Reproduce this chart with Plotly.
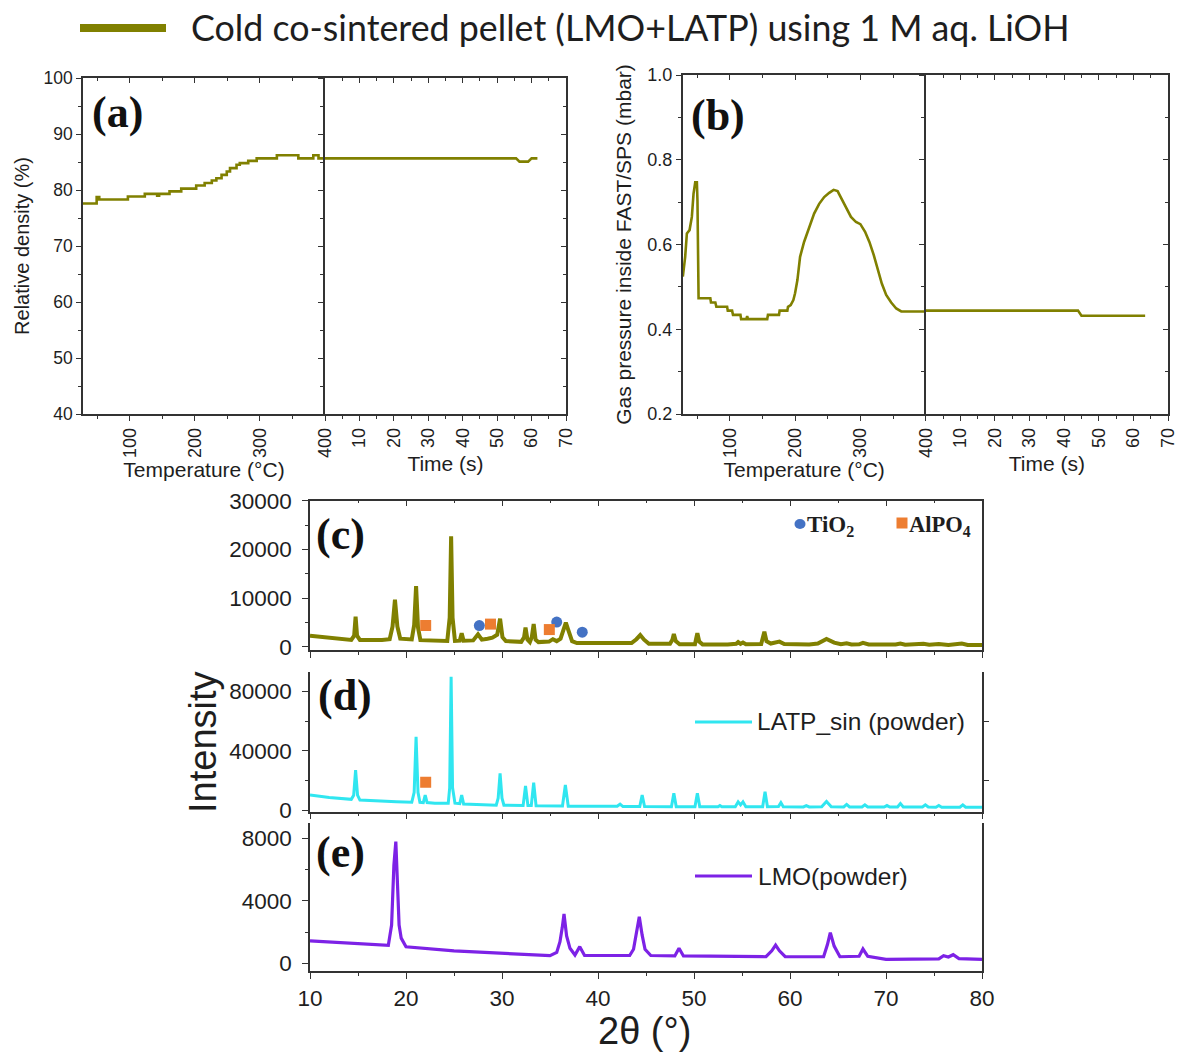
import plotly.graph_objects as go

W, H = 1179, 1053

# ---------------- data ----------------
# (a) relative density during heating (step trace) and during the dwell
temp_a = [28, 49, 53, 97, 123, 142, 145, 161, 179, 202, 215, 226, 233, 241, 249, 254,
          264, 269, 282, 295, 326, 359, 382, 390, 400]
density_a = [77.6, 78.75, 78.3, 78.85, 79.3, 79.0, 79.3, 79.75, 80.25, 80.8, 81.25, 81.7,
             82.1, 82.7, 83.3, 83.9, 84.5, 84.8, 85.2, 85.65, 86.2, 85.65, 86.2, 85.65, 85.65]
time_a = [0, 55.5, 56.5, 59.0, 60.0, 61.7]
density_time_a = [85.65, 85.65, 85.06, 85.06, 85.65, 85.65]

# (b) gas pressure inside the FAST/SPS chamber
temp_b = [28.2, 31.8, 34.4, 38.5, 42.0, 44.6, 47.2, 49.7, 50.6, 51.2, 52.3, 70.3, 71.3, 78.0,
          79.5, 96.0, 97.0, 103.6, 105.0, 116.4, 117.4, 125.5, 126.7, 128.0, 157.4, 158.5,
          175.4, 176.4, 188.2, 189.2, 193.3, 197.4, 200.0, 203.6, 207.7, 213.8, 221.5,
          229.2, 236.9, 244.6, 252.3, 259.0, 265.1, 271.3, 278.0, 285.6, 293.3, 300.0,
          307.2, 313.8, 320.5, 326.7, 332.8, 339.5, 347.2, 354.9, 362.6, 400.0]
pressure_b = [0.524, 0.571, 0.626, 0.634, 0.665, 0.720, 0.747, 0.747, 0.704, 0.493, 0.473,
              0.473, 0.463, 0.463, 0.453, 0.453, 0.444, 0.444, 0.434, 0.434, 0.424, 0.424,
              0.431, 0.424, 0.424, 0.434, 0.434, 0.444, 0.444, 0.453, 0.457, 0.469, 0.485,
              0.516, 0.571, 0.606, 0.642, 0.673, 0.696, 0.712, 0.722, 0.729, 0.726, 0.708,
              0.685, 0.665, 0.653, 0.648, 0.630, 0.606, 0.575, 0.540, 0.508, 0.481, 0.463,
              0.449, 0.442, 0.442]
time_b = [0, 44.0, 45.0, 63.4]
pressure_time_b = [0.444, 0.444, 0.432, 0.432]

# (c) XRD of the cold co-sintered pellet
two_theta_c = [10.0, 12.0, 14.3, 14.6, 14.75, 14.9, 15.2, 17.5, 18.3, 18.6, 18.85, 19.1, 19.4,
               20.6, 20.85, 21.05, 21.25, 21.5, 22.5, 24.3, 24.55, 24.7, 24.85, 25.1, 25.6,
               25.8, 26.0, 27.0, 27.5, 27.9, 28.5, 29.0, 29.5, 29.8, 30.05, 30.4, 32.0, 32.3,
               32.45, 32.65, 32.9, 33.1, 33.3, 33.5, 33.8, 34.9, 35.3, 35.7, 36.1, 36.4, 36.65,
               36.9, 37.3, 37.8, 40.0, 43.5, 44.0, 44.4, 44.8, 45.3, 47.5, 47.75, 47.9, 48.1,
               48.5, 50.1, 50.2, 50.35, 50.55, 50.9, 53.5, 54.4, 54.6, 54.85, 55.1, 55.4, 57.0,
               57.15, 57.33, 57.55, 58.0, 58.9, 59.4, 62.0, 62.9, 63.8, 64.6, 65.3, 65.9, 66.4,
               67.2, 67.6, 68.2, 71.0, 71.5, 72.0, 73.9, 74.5, 75.5, 76.5, 77.9, 78.5, 80.0]
intensity_c = [2300, 1900, 1450, 2300, 6200, 2300, 1450, 1450, 1600, 4200, 9700, 4200, 1700,
               1550, 4500, 12500, 4000, 1400, 1350, 1250, 6000, 22700, 6000, 1250, 1300,
               2800, 1300, 1350, 2600, 1500, 1700, 1900, 2500, 5800, 2000, 1200, 1050, 2000,
               4000, 1500, 1000, 2000, 4700, 1500, 1000, 1100, 1600, 1200, 1700, 3800, 5000,
               3500, 1200, 800, 750, 800, 1600, 2450, 1500, 650, 650, 1500, 2650, 1200,
               550, 550, 1500, 2850, 1100, 500, 500, 650, 1000, 650, 900, 550, 600,
               1600, 3150, 1200, 700, 1100, 600, 500, 700, 1650, 900, 550, 750, 500,
               550, 850, 500, 500, 700, 450, 650, 450, 600, 400, 700, 400, 400]

# secondary phases marked on the pellet and powder patterns
tio2_c_two_theta = [27.64, 35.7, 38.36]
tio2_c_intensity = [4400, 5100, 3030]
alpo4_c_two_theta = [22.05, 28.8, 34.93]
alpo4_c_intensity = [4400, 4690, 3570]
alpo4_d_two_theta = [22.05]
alpo4_d_intensity = [18700]

# (d) XRD of the sintered LATP powder
two_theta_d = [10.0, 12.0, 14.3, 14.55, 14.75, 14.95, 15.2, 17.0, 19.0, 20.6, 20.85, 21.05,
               21.25, 21.45, 21.8, 22.0, 22.2, 23.0, 24.4, 24.55, 24.7, 24.85, 25.1, 25.6,
               25.8, 26.0, 27.5, 29.4, 29.6, 29.8, 30.0, 30.2, 32.2, 32.45, 32.7, 33.05, 33.3,
               33.55, 36.3, 36.6, 36.9, 40.0, 42.0, 42.3, 42.6, 44.35, 44.6, 44.85, 47.65,
               47.9, 48.15, 50.1, 50.35, 50.6, 52.5, 52.7, 52.9, 54.3, 54.6, 54.85, 55.1,
               55.4, 57.15, 57.4, 57.65, 58.8, 59.05, 59.3, 61.4, 61.7, 62.0, 63.3, 63.8,
               64.3, 65.6, 65.9, 66.2, 67.5, 67.8, 68.1, 69.8, 70.1, 70.4, 71.2, 71.5, 71.8,
               73.8, 74.1, 74.4, 75.2, 75.5, 75.8, 77.7, 78.0, 78.3, 80.0]
intensity_d = [10100, 8500, 7200, 10000, 27000, 10000, 6700, 6000, 5500, 5200, 12000, 49500,
               12000, 5200, 5000, 10100, 5000, 4600, 4500, 15000, 90000, 15000, 4600, 4300,
               10100, 4100, 3800, 3200, 8000, 24800, 8000, 3200, 3000, 16200, 3000, 3000, 18500,
               2800, 2700, 16900, 2600, 2250, 2500, 4000, 2300, 2300, 10100, 2300, 2200,
               11300, 2200, 2200, 11300, 2200, 2200, 3000, 2200, 2200, 5500, 3500, 5500,
               2200, 2200, 12400, 2200, 2400, 5000, 2200, 2100, 3000, 2100, 2200, 5800,
               2200, 2100, 3800, 2100, 2000, 3500, 2000, 2000, 3000, 2000, 2000, 4300, 2000,
               2000, 3500, 2000, 1900, 3000, 1900, 1900, 3500, 1900, 1800]

# (e) XRD of the LMO powder
two_theta_e = [10.0, 14.0, 18.16, 18.5, 18.74, 18.94, 19.07, 19.28, 19.5, 20.0, 25.0, 30.0,
               35.0, 35.7, 36.04, 36.28, 36.46, 36.73, 37.08, 37.6, 38.1, 38.6, 40.0, 43.3,
               43.7, 44.0, 44.3, 44.6, 44.9, 45.5, 48.0, 48.44, 48.9, 57.5, 58.1, 58.5, 58.9,
               59.5, 63.5, 63.9, 64.2, 64.6, 65.2, 67.2, 67.6, 68.1, 70.0, 75.5, 76.0, 76.5,
               77.0, 77.6, 80.0]
intensity_e = [1430, 1280, 1150, 2450, 6290, 7785, 5220, 2450, 1610, 1060, 790, 640,
               490, 700, 1385, 2300, 3155, 1750, 960, 530, 1065, 500, 510, 500,
               900, 1900, 2980, 1800, 900, 500, 470, 960, 470, 420, 800, 1170, 800,
               420, 420, 1200, 1960, 1100, 420, 450, 915, 450, 250, 280, 490, 400,
               550, 300, 250]

temp_ticks = [100, 200, 300, 400]
temp_minor = [50, 150, 250, 350]
time_ticks = [10, 20, 30, 40, 50, 60, 70]
time_minor = [5, 15, 25, 35, 45, 55, 65]

OLIVE = "#808000"
CYAN = "#30e6f0"
PURPLE = "#7d22e6"
BLUE = "#4472c4"
ORANGE = "#ed7d31"
AX = "#333333"
TXT = "#1e1e1e"
SANS = "Liberation Sans, Arial, sans-serif"
SERIF = "Liberation Serif, Times New Roman, serif"


def px(x):
    return x / W


def py(y):
    return 1 - y / H


def axis(**kw):
    d = dict(showline=True, linecolor=AX, linewidth=1.5, ticks="outside", tickcolor=AX,
             ticklen=5, tickwidth=1.3, showgrid=False, zeroline=False, automargin=False,
             tickfont=dict(family=SANS, size=18, color=TXT))
    d.update(kw)
    return d


def minor(vals=None, dtick=None, side="outside"):
    m = dict(ticks=side, ticklen=3, tickcolor=AX, tickwidth=1.2, showgrid=False)
    if vals is not None:
        m["tickvals"] = vals
    if dtick is not None:
        m["dtick"] = dtick
    return m


fig = go.Figure()

# ---- (a) ----
fig.add_trace(go.Scatter(x=temp_a, y=density_a, mode="lines", line=dict(color=OLIVE, width=2.6, shape="hv"),
                         xaxis="x", yaxis="y", showlegend=False))
fig.add_trace(go.Scatter(x=time_a, y=density_time_a, mode="lines", line=dict(color=OLIVE, width=2.6),
                         xaxis="x2", yaxis="y2", showlegend=False))
# ---- (b) ----
fig.add_trace(go.Scatter(x=temp_b, y=pressure_b, mode="lines", line=dict(color=OLIVE, width=2.6),
                         xaxis="x5", yaxis="y4", showlegend=False))
fig.add_trace(go.Scatter(x=time_b, y=pressure_time_b, mode="lines", line=dict(color=OLIVE, width=2.6),
                         xaxis="x6", yaxis="y5", showlegend=False))
# ---- (c), (d), (e) ----
fig.add_trace(go.Scatter(x=two_theta_c, y=intensity_c, mode="lines", line=dict(color=OLIVE, width=4),
                         xaxis="x9", yaxis="y7", showlegend=False))
fig.add_trace(go.Scatter(x=two_theta_d, y=intensity_d, mode="lines", line=dict(color=CYAN, width=3),
                         xaxis="x10", yaxis="y8", showlegend=False))
fig.add_trace(go.Scatter(x=two_theta_e, y=intensity_e, mode="lines", line=dict(color=PURPLE, width=3.2),
                         xaxis="x11", yaxis="y9", showlegend=False))
fig.add_trace(go.Scatter(x=tio2_c_two_theta, y=tio2_c_intensity, mode="markers",
                         marker=dict(symbol="circle", size=11, color=BLUE), xaxis="x9", yaxis="y7",
                         showlegend=False))
fig.add_trace(go.Scatter(x=alpo4_c_two_theta, y=alpo4_c_intensity, mode="markers",
                         marker=dict(symbol="square", size=11, color=ORANGE), xaxis="x9", yaxis="y7",
                         showlegend=False))
fig.add_trace(go.Scatter(x=alpo4_d_two_theta, y=alpo4_d_intensity, mode="markers",
                         marker=dict(symbol="square", size=11, color=ORANGE), xaxis="x10", yaxis="y8",
                         showlegend=False))

# empty traces so the frame-only overlay axes get their subplots
for xa, ya in [("x3", "y"), ("x4", "y2"), ("x2", "y3"), ("x7", "y4"), ("x8", "y5"), ("x6", "y6"),
               ("x12", "y7"), ("x10", "y11")]:
    fig.add_trace(go.Scatter(x=[], y=[], xaxis=xa, yaxis=ya, showlegend=False, hoverinfo="skip"))

title_font = dict(family=SANS, size=21, color=TXT)
lay = {}

# panel (a) axes
a_dom = [py(414), py(78)]
lay["xaxis"] = axis(domain=[px(83), px(325)], anchor="y", range=[28, 400], tickvals=temp_ticks,
                    tickangle=-90, minor=minor(temp_minor),
                    title=dict(text="Temperature (°C)", font=title_font, standoff=0))
lay["xaxis2"] = axis(domain=[px(325), px(566)], anchor="y2", range=[0, 70], tickvals=time_ticks,
                     tickangle=-90, minor=minor(time_minor),
                     title=dict(text="Time (s)", font=title_font, standoff=9))
lay["xaxis3"] = axis(overlaying="x", side="top", anchor="y", range=[28, 400], tickvals=temp_ticks,
                     ticks="inside", showticklabels=False, minor=minor(temp_minor, side="inside"))
lay["xaxis4"] = axis(overlaying="x2", side="top", anchor="y2", range=[0, 70], tickvals=time_ticks,
                     ticks="inside", showticklabels=False, minor=minor(time_minor, side="inside"))
lay["yaxis"] = axis(domain=a_dom, anchor="x", range=[40, 100], dtick=10, tick0=40,
                    minor=minor(dtick=5), tickfont=dict(family=SANS, size=17.5, color=TXT),
                    title=dict(text="Relative density (%)", font=dict(family=SANS, size=20, color=TXT),
                               standoff=9))
lay["yaxis2"] = axis(domain=a_dom, anchor="x2", range=[40, 100], dtick=10, tick0=40,
                     showticklabels=False, minor=minor(dtick=5))
lay["yaxis3"] = axis(overlaying="y2", side="right", anchor="x2", range=[40, 100], dtick=10, tick0=40,
                     ticks="inside", showticklabels=False, minor=minor(dtick=5, side="inside"))

# panel (b) axes
b_dom = [py(414), py(75)]
lay["xaxis5"] = axis(domain=[px(682.7), px(925.7)], anchor="y4", range=[28, 400], tickvals=temp_ticks,
                     tickangle=-90, minor=minor(temp_minor),
                     title=dict(text="Temperature (°C)", font=title_font, standoff=0))
lay["xaxis6"] = axis(domain=[px(925.7), px(1168)], anchor="y5", range=[0, 70], tickvals=time_ticks,
                     tickangle=-90, minor=minor(time_minor),
                     title=dict(text="Time (s)", font=title_font, standoff=9))
lay["xaxis7"] = axis(overlaying="x5", side="top", anchor="y4", range=[28, 400], tickvals=temp_ticks,
                     ticks="inside", showticklabels=False, minor=minor(temp_minor, side="inside"))
lay["xaxis8"] = axis(overlaying="x6", side="top", anchor="y5", range=[0, 70], tickvals=time_ticks,
                     ticks="inside", showticklabels=False, minor=minor(time_minor, side="inside"))
lay["yaxis4"] = axis(domain=b_dom, anchor="x5", range=[0.2, 1.0], dtick=0.2, tick0=0.2,
                     tickformat=".1f", minor=minor(dtick=0.1),
                     title=dict(text="Gas pressure inside FAST/SPS (mbar)",
                                font=dict(family=SANS, size=21, color=TXT), standoff=10))
lay["yaxis5"] = axis(domain=b_dom, anchor="x6", range=[0.2, 1.0], dtick=0.2, tick0=0.2,
                     showticklabels=False, minor=minor(dtick=0.1))
lay["yaxis6"] = axis(overlaying="y5", side="right", anchor="x6", range=[0.2, 1.0], dtick=0.2, tick0=0.2,
                     ticks="inside", showticklabels=False, minor=minor(dtick=0.1, side="inside"))

# XRD panels (c), (d), (e)
xrd_x = [px(310), px(982)]
big_tick = dict(family=SANS, size=22.5, color=TXT)
for name, anchor, labels in [("xaxis9", "y7", False), ("xaxis10", "y8", False), ("xaxis11", "y9", True)]:
    lay[name] = axis(domain=xrd_x, anchor=anchor, range=[10, 80], dtick=10, tick0=10, ticklen=6,
                     showticklabels=labels, tickfont=big_tick, minor=minor(dtick=5))
lay["xaxis12"] = axis(overlaying="x9", side="top", anchor="y7", range=[10, 80], dtick=10, tick0=10,
                      ticks="inside", ticklen=6, showticklabels=False, minor=minor(dtick=5, side="inside"))

xrd_panels = [
    ("yaxis7", "x9", [py(650), py(500.7)], [-620, 30000], 10000, 5000),
    ("yaxis8", "x10", [py(811.7), py(671.7)], [-1150, 93450], 40000, 20000),
    ("yaxis9", "x11", [py(971), py(823.3)], [-493, 8960], 4000, 2000),
]
for left, xa, dom, rng, major, mnr in xrd_panels:
    lay[left] = axis(domain=dom, anchor=xa, range=rng, dtick=major, tick0=0, tickformat="d",
                     ticklen=6, tickfont=big_tick, ticklabelstandoff=6, minor=minor(dtick=mnr),
                     mirror=True)
# right frame of (d) carries two outward ticks
lay["yaxis11"] = axis(overlaying="y8", side="right", anchor="x10", range=[-1150, 93450],
                      tickvals=[20000, 60000], ticks="outside", ticklen=5, showticklabels=False)

fig.update_layout(**lay)

# panel letters
letters = [("(a)", 117.5, 113), ("(b)", 718, 115), ("(c)", 340, 534), ("(d)", 345, 695), ("(e)", 340, 852)]
annotations = []
for t, x, y in letters:
    annotations.append(dict(text="<b>%s</b>" % t, x=px(x), y=py(y), xref="paper", yref="paper",
                            showarrow=False, xanchor="center", yanchor="middle",
                            font=dict(family=SERIF, size=44, color="#111111")))

annotations += [
    dict(text="Intensity", x=px(203), y=py(742), xref="paper", yref="paper", showarrow=False,
         textangle=-90, xanchor="center", yanchor="middle", font=dict(family=SANS, size=38, color=TXT)),
    dict(text="2θ (°)", x=px(645), y=py(1031), xref="paper", yref="paper", showarrow=False,
         xanchor="center", yanchor="middle", font=dict(family=SANS, size=38, color=TXT)),
    dict(text="Cold co-sintered pellet (LMO+LATP) using 1 M aq. LiOH", x=px(189), y=py(27),
         xref="paper", yref="paper", showarrow=False, xanchor="left", yanchor="middle",
         font=dict(family="Lato, sans-serif", size=35.8, color=TXT)),
    dict(text="LATP_sin (powder)", x=px(755), y=py(722), xref="paper", yref="paper", showarrow=False,
         xanchor="left", yanchor="middle", font=dict(family=SANS, size=24.5, color=TXT)),
    dict(text="LMO(powder)", x=px(756), y=py(876), xref="paper", yref="paper", showarrow=False,
         xanchor="left", yanchor="middle", font=dict(family=SANS, size=24.5, color=TXT)),
    dict(text="<b>TiO<sub>2</sub></b>", x=px(805), y=py(526), xref="paper", yref="paper",
         showarrow=False, xanchor="left", yanchor="middle",
         font=dict(family=SERIF, size=23, color=TXT)),
    dict(text="<b>AlPO<sub>4</sub></b>", x=px(907), y=py(526), xref="paper", yref="paper",
         showarrow=False, xanchor="left", yanchor="middle",
         font=dict(family=SERIF, size=22.5, color=TXT)),
]

shapes = [
    dict(type="line", xref="paper", yref="paper", x0=px(80), x1=px(166), y0=py(28), y1=py(28),
         line=dict(color=OLIVE, width=8)),
    dict(type="line", xref="paper", yref="paper", x0=px(695), x1=px(752), y0=py(722), y1=py(722),
         line=dict(color=CYAN, width=3)),
    dict(type="line", xref="paper", yref="paper", x0=px(695), x1=px(752), y0=py(876), y1=py(876),
         line=dict(color=PURPLE, width=3)),
    dict(type="circle", xref="paper", yref="paper", x0=px(794.5), x1=px(805.5), y0=py(529), y1=py(519),
         fillcolor=BLUE, line=dict(width=0)),
    dict(type="rect", xref="paper", yref="paper", x0=px(896.5), x1=px(907.5), y0=py(528.5), y1=py(517.5),
         fillcolor=ORANGE, line=dict(width=0)),
]

fig.update_layout(width=W, height=H, margin=dict(l=0, r=0, t=0, b=0), paper_bgcolor="white",
                  plot_bgcolor="white", annotations=annotations, shapes=shapes, showlegend=False)

fig.write_html("out.html")
